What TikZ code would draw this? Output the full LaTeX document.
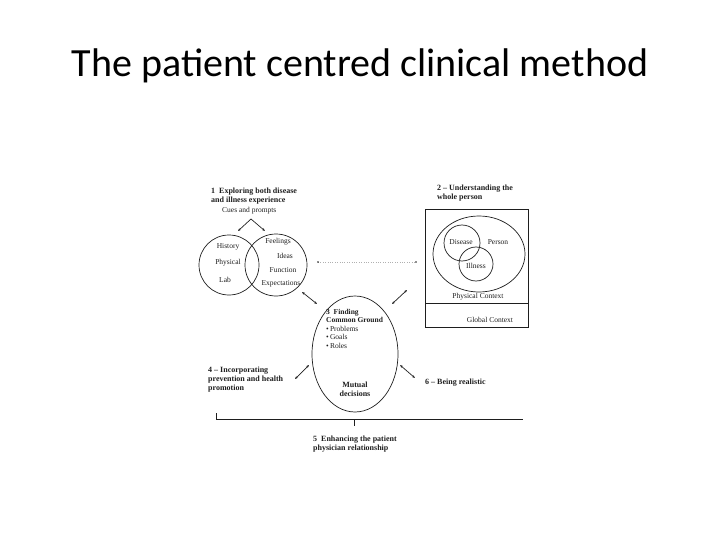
\documentclass[tikz,border=0pt]{standalone}
\usepackage{fontspec}
\setmainfont{Liberation Serif}
\newfontfamily\titlefont{Carlito}
\usetikzlibrary{positioning,arrows.meta,shapes.geometric}
\definecolor{ink}{RGB}{30,30,30}
\tikzset{
  ring/.style={draw=ink, line width=0.7pt, circle, minimum size=#1, inner sep=0pt},
  oval/.style={draw=ink, line width=0.7pt, ellipse, inner sep=0pt},
  hd/.style={font=\fontsize{8}{9}\selectfont\bfseries, align=left, inner sep=0pt, text=ink},
  txt/.style={font=\fontsize{7.5}{8.3}\selectfont, align=center, inner sep=0pt, text=ink},
  biarrow/.style={{Stealth[length=3pt,width=2.4pt]}-{Stealth[length=3pt,width=2.4pt]}, line width=0.7pt, draw=ink},
  arrow/.style={-{Stealth[length=3pt,width=2.4pt]}, line width=0.7pt, draw=ink}
}
\begin{document}
\begin{tikzpicture}[x=1pt, y=-1pt]
  \useasboundingbox (0,0) rectangle (720,540);
  \node[font=\titlefont\fontsize{40}{44}\selectfont] (title) at (360,66) {The patient centred clinical method};

  % 1 - exploring
  \node[hd, anchor=north west] (explore) at (211,188) {1 \ Exploring both disease\\and illness experience};
  \node[txt, anchor=west] (cues) at (222,211) {Cues and prompts};
  \node[ring=60pt] (hx) at (229,265) {};
  \node[ring=62pt] (fx) at (276,265) {};
  \coordinate (apex) at (251,219);
  \draw[arrow] (apex) -- (238,231);
  \draw[arrow] (apex) -- (265,231);
  \node[txt] (history) at (228,247) {History};
  \node[txt] (physical) at (228,263) {Physical};
  \node[txt] (lab) at (225,280) {Lab};
  \node[txt] (feel) at (278,242) {Feelings};
  \node[txt] (ideas) at (285,256) {Ideas};
  \node[txt] (func) at (283,270) {Function};
  \node[txt] (expect) at (281,284) {Expectations};

  % link to whole person
  \coordinate (dl) at (318,262);
  \coordinate (dr) at (416,262);
  \draw[ink!35, dotted] (dl) -- (dr);
  \fill[ink] (dl) circle (0.9pt) (dr) circle (0.9pt);

  % 2 - whole person
  \node[hd, anchor=north west] (whole) at (437,185) {2 -- Understanding the\\whole person};
  \node[draw=ink, line width=0.7pt, anchor=north west, minimum width=103pt, minimum height=118pt, inner sep=0pt] (ctx) at (425,209) {};
  \coordinate (divl) at (425,303);
  \coordinate (divr) at (528,303);
  \draw[ink, line width=0.7pt] (divl) -- (divr);
  \node[oval, minimum width=92pt, minimum height=76pt] (person) at (479,254) {};
  \node[ring=36pt] (dis) at (462,243) {};
  \node[ring=34pt] (ill) at (476,264) {};
  \node[txt] (disease) at (461,242) {Disease};
  \node[txt] (persn) at (498,242) {Person};
  \node[txt] (illness) at (476,266) {Illness};
  \node[txt] (phys) at (478,297) {Physical Context};
  \node[txt] (glob) at (490,320) {Global Context};

  % 3 - common ground
  \node[oval, minimum width=86pt, minimum height=116pt] (ground) at (355,354) {};
  \node[anchor=north west, inner sep=0pt, align=left, text=ink, font=\fontsize{7.5}{8.4}\selectfont] (finding) at (326,309)
    {\textbf{3 \ Finding}\\\textbf{Common Ground}\\\textbullet\,Problems\\\textbullet\,Goals\\\textbullet\,Roles};
  \node[hd, align=center] (mutual) at (355,389) {Mutual\\decisions};

  \draw[biarrow] (302,292) -- (317,304);
  \draw[biarrow] (407,290) -- (392,304);
  \draw[biarrow] (295,379) -- (309,365);
  \draw[biarrow] (400,365) -- (415,378);

  % 4, 5, 6
  \node[hd, anchor=north west] (prevent) at (208,367) {4 -- Incorporating\\prevention and health\\promotion};
  \node[hd, anchor=west] (real) at (425,383) {6 -- Being realistic};
  \coordinate (bl) at (216,419);
  \coordinate (br) at (523,419);
  \coordinate (blt) at (216,413);
  \coordinate (bm) at (354,419);
  \coordinate (bmt) at (354,426);
  \draw[ink, line width=0.7pt] (blt) -- (bl) -- (br);
  \draw[ink, line width=0.7pt] (bm) -- (bmt);
  \node[hd, anchor=north west] (enhance) at (313,436) {5 \ Enhancing the patient\\physician relationship};
\end{tikzpicture}
\end{document}
